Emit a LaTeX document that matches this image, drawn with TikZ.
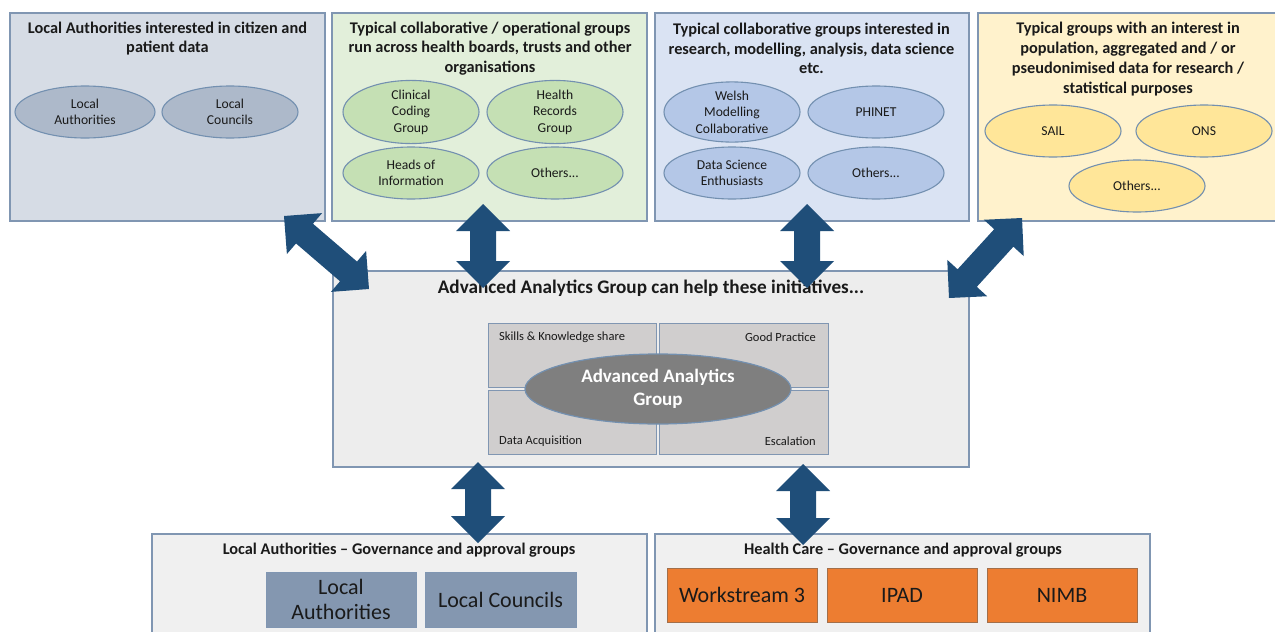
\documentclass[tikz,border=0pt]{standalone}
\usepackage{fontspec}
\setmainfont{Carlito}
\usetikzlibrary{calc,shapes.geometric}
\definecolor{bordc}{HTML}{8096B2}
\definecolor{ovbord}{HTML}{7390B0}
\definecolor{fa}{HTML}{D6DCE5}
\definecolor{ea}{HTML}{ADB9CA}
\definecolor{fb}{HTML}{E2EFDA}
\definecolor{eb}{HTML}{C5E0B4}
\definecolor{fc}{HTML}{DAE3F3}
\definecolor{ec}{HTML}{B4C7E7}
\definecolor{fd}{HTML}{FFF2CC}
\definecolor{ed}{HTML}{FFE699}
\definecolor{cgray}{HTML}{EDEDED}
\definecolor{qgray}{HTML}{D0CECE}
\definecolor{dgray}{HTML}{7F7F7F}
\definecolor{bgray}{HTML}{F0F0F0}
\definecolor{steel}{HTML}{8497B0}
\definecolor{orng}{HTML}{ED7D31}
\definecolor{orbord}{HTML}{A26F4A}
\definecolor{arrc}{HTML}{1F4E79}
\definecolor{txt}{HTML}{1A1A1A}
\newcommand{\dblarr}[2]{%
  \fill[arrc] (#1)
    -- ($(#1)!27pt!(#2)!27pt!90:(#2)$)
    -- ($(#1)!27pt!(#2)!13pt!90:(#2)$)
    -- ($(#2)!27pt!(#1)!13pt!-90:(#1)$)
    -- ($(#2)!27pt!(#1)!27pt!-90:(#1)$)
    -- (#2)
    -- ($(#2)!27pt!(#1)!27pt!90:(#1)$)
    -- ($(#2)!27pt!(#1)!13pt!90:(#1)$)
    -- ($(#1)!27pt!(#2)!13pt!-90:(#2)$)
    -- ($(#1)!27pt!(#2)!27pt!-90:(#2)$)
    -- cycle;}
\tikzset{
  panel/.style={rectangle,draw=bordc,line width=1.3pt,inner sep=0pt},
  oval/.style={ellipse,draw=ovbord,line width=1.1pt,minimum width=136pt,minimum height=52pt,inner sep=0pt,align=center,text=txt,font=\fontsize{13.6}{16.5}\selectfont},
  ttl/.style={align=center,text=txt,inner sep=0pt,font=\fontsize{16.3}{19.8}\selectfont\bfseries},
  quad/.style={rectangle,draw=bordc,line width=1pt,fill=qgray,minimum width=168pt,minimum height=64pt,inner sep=0pt},
  qlab/.style={text=txt,inner sep=0pt,font=\fontsize{12.5}{14}\selectfont},
  govbox/.style={rectangle,line width=1pt,minimum width=150pt,minimum height=55pt,inner sep=0pt,align=center,text=txt,font=\fontsize{22}{25}\selectfont}
}
\begin{document}
\begin{tikzpicture}[x=1pt,y=-1pt]
\useasboundingbox (0,0) rectangle (1275,632);
\clip (0,0) rectangle (1275,632);
% top panels
\node[panel,fill=fa,minimum width=315pt,minimum height=208pt] (p1) at (167.5,117) {};
\node[panel,fill=fb,minimum width=315pt,minimum height=208pt] (p2) at (489.5,117) {};
\node[panel,fill=fc,minimum width=314pt,minimum height=208pt] (p3) at (812,117) {};
\node[panel,fill=fd,minimum width=312pt,minimum height=208pt] (p4) at (1134,117) {};
\node[ttl] (t1) at (167.5,38.5) {Local Authorities interested in citizen and\\patient data};
\node[ttl] (t2) at (490,48.5) {Typical collaborative / operational groups\\run across health boards, trusts and other\\organisations};
\node[ttl] (t3) at (811.5,48.5) {Typical collaborative groups interested in\\research, modelling, analysis, data science\\etc.};
\node[ttl] (t4) at (1128,59) {Typical groups with an interest in\\population, aggregated and / or\\pseudonimised data for research /\\statistical purposes};
% ovals panel 1
\node[oval,fill=ea,minimum width=140pt] (la) at (85,112) {Local\\Authorities};
\node[oval,fill=ea] (lc) at (230,112) {Local\\Councils};
% ovals panel 2
\node[oval,fill=eb] (ccg) at (411,112) {Clinical\\Coding\\Group};
\node[oval,fill=eb] (hrg) at (555,112) {Health\\Records\\Group};
\node[oval,fill=eb] (hoi) at (411,173) {Heads of\\Information};
\node[oval,fill=eb] (oth2) at (555,173) {Others...};
% ovals panel 3
\node[oval,fill=ec] (wmc) at (732,112) {Welsh\\Modelling\\Collaborative};
\node[oval,fill=ec] (phi) at (876,112) {PHINET};
\node[oval,fill=ec] (dse) at (732,173) {Data Science\\Enthusiasts};
\node[oval,fill=ec] (oth3) at (876,173) {Others...};
% ovals panel 4
\node[oval,fill=ed] (sail) at (1053,131) {SAIL};
\node[oval,fill=ed] (ons) at (1204,131) {ONS};
\node[oval,fill=ed] (oth4) at (1137,186) {Others...};
% central panel
\node[panel,fill=cgray,minimum width=636pt,minimum height=196pt] (cp) at (651,369) {};
\node[ttl,font=\fontsize{19.2}{22}\selectfont\bfseries] (ct) at (651,288) {Advanced Analytics Group can help these initiatives...};
\node[quad] (q1) at (572,355) {};
\node[quad,minimum width=169pt] (q2) at (743.5,355) {};
\node[quad] (q3) at (572,422) {};
\node[quad,minimum width=169pt] (q4) at (743.5,422) {};
\node[qlab,anchor=west] (l1) at (499,337) {Skills \& Knowledge share};
\node[qlab,anchor=east] (l2) at (816,337) {Good Practice};
\node[qlab,anchor=west] (l3) at (499,441) {Data Acquisition};
\node[qlab,anchor=east] (l4) at (816,441) {Escalation};
\node[ellipse,draw=ovbord,line width=1.2pt,fill=dgray,minimum width=266pt,minimum height=70pt,inner sep=0pt,align=center,text=white,font=\fontsize{19}{23}\selectfont\bfseries] (aag) at (658,389) {Advanced Analytics\\Group};
% bottom panels
\node[panel,fill=bgray,minimum width=495pt,minimum height=116pt] (bl) at (399.5,592) {};
\node[panel,fill=bgray,minimum width=495pt,minimum height=116pt] (br) at (902.5,592) {};
\node[ttl] (bt1) at (399,550) {Local Authorities -- Governance and approval groups};
\node[ttl] (bt2) at (903,550) {Health Care -- Governance and approval groups};
\node[govbox,draw=bordc,fill=steel] (gla) at (341,599.5) {Local\\Authorities};
\node[govbox,draw=bordc,fill=steel,minimum width=151pt] (glc) at (500.5,599.5) {Local Councils};
\node[govbox,draw=orbord,fill=orng,minimum height=54pt] (ws) at (742,595) {Workstream 3};
\node[govbox,draw=orbord,fill=orng,minimum height=54pt] (ipad) at (902,595) {IPAD};
\node[govbox,draw=orbord,fill=orng,minimum height=54pt] (nimb) at (1062,595) {NIMB};
% arrows
\coordinate (a1s) at (284,216);
\coordinate (a1e) at (369,289);
\coordinate (a2s) at (483,204);
\coordinate (a2e) at (483,288);
\coordinate (a3s) at (807,204);
\coordinate (a3e) at (807,288);
\coordinate (a4s) at (1022,218);
\coordinate (a4e) at (949,298);
\coordinate (a5s) at (478,462);
\coordinate (a5e) at (478,543);
\coordinate (a6s) at (803,464);
\coordinate (a6e) at (803,545);
\dblarr{a1s}{a1e}
\dblarr{a2s}{a2e}
\dblarr{a3s}{a3e}
\dblarr{a4s}{a4e}
\dblarr{a5s}{a5e}
\dblarr{a6s}{a6e}
\end{tikzpicture}
\end{document}
